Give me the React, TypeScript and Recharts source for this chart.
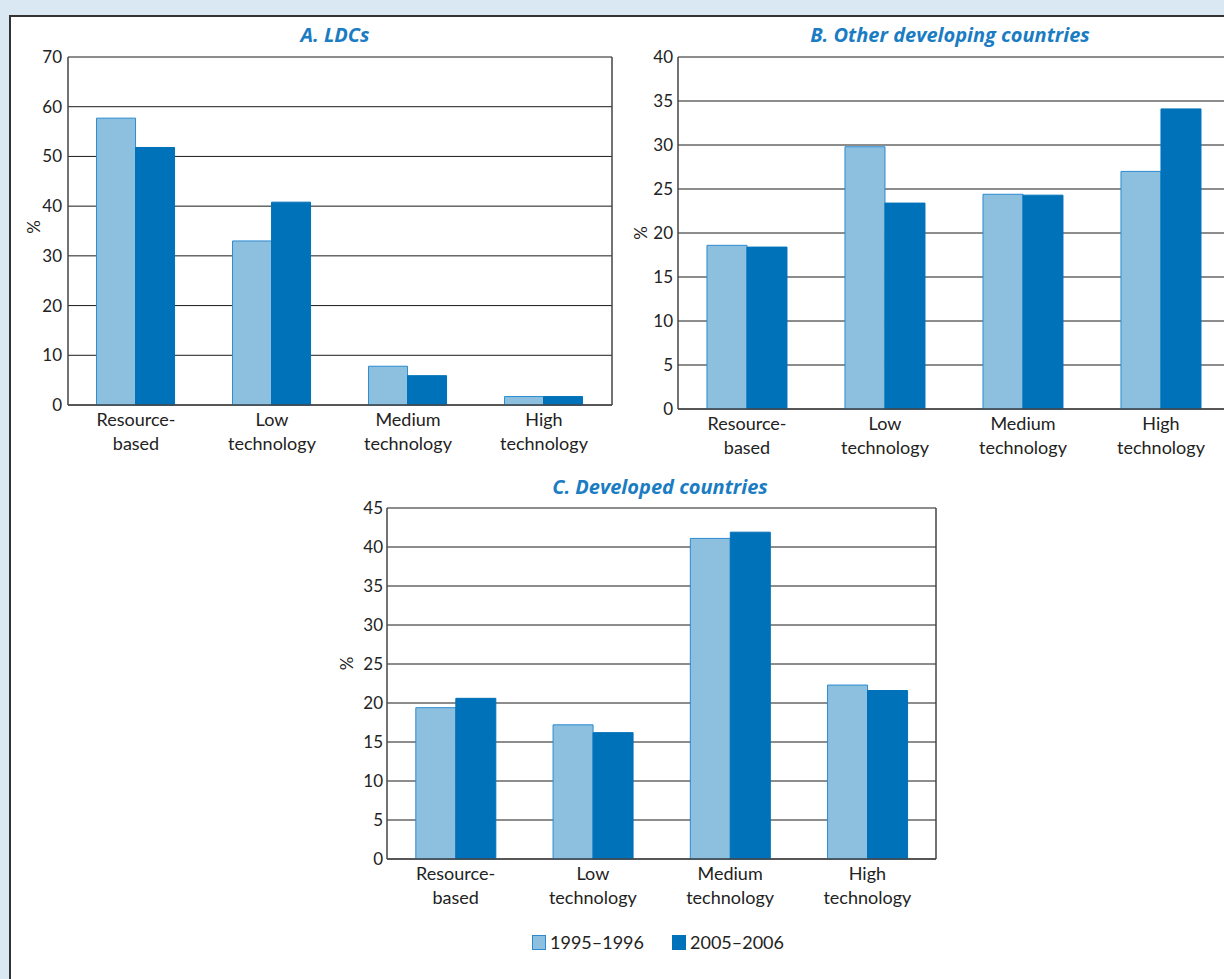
import React from "react";
import { BarChart, Bar, XAxis, YAxis, CartesianGrid } from "recharts";

const categories = ["Resource-\nbased", "Low\ntechnology", "Medium\ntechnology", "High\ntechnology"];
const seriesNames = ["1995–1996", "2005–2006"];

const ldc9596 = [57.7, 33.0, 7.8, 1.7];
const ldc0506 = [51.8, 40.8, 5.9, 1.7];
const other9596 = [18.6, 29.8, 24.4, 27.0];
const other0506 = [18.4, 23.4, 24.3, 34.1];
const dev9596 = [19.4, 17.2, 41.1, 22.3];
const dev0506 = [20.6, 16.2, 41.9, 21.6];

const ldcTicks = [0, 10, 20, 30, 40, 50, 60, 70];
const otherTicks = [0, 5, 10, 15, 20, 25, 30, 35, 40];
const devTicks = [0, 5, 10, 15, 20, 25, 30, 35, 40, 45];

const LIGHT = "#8dc0df";
const LIGHT_EDGE = "#2b8ad0";
const DARK = "#0072b9";
const TITLE = "#1a7cc2";
const FONT = "Lato, 'Open Sans', sans-serif";

const toRows = (a: number[], b: number[]) =>
  categories.map((name, i) => ({ name, a: a[i], b: b[i] }));

const CategoryTick = ({ x, y, payload }: any) => {
  const lines = String(payload.value).split("\n");
  return (
    <text x={x} y={y} textAnchor="middle" fill="#222" fontSize={18} fontFamily={FONT}>
      {lines.map((l, i) => (
        <tspan key={i} x={x} dy={i === 0 ? 13 : 24}>
          {l}
        </tspan>
      ))}
    </text>
  );
};

interface PanelProps {
  left: number;
  top: number;
  width: number;
  height: number;
  margin: { top: number; right: number; bottom: number; left: number };
  a: number[];
  b: number[];
  ticks: number[];
  pctDx: number;
  pctDy: number;
  tickGap: number;
}

function Panel({ left, top, width, height, margin, a, b, ticks, pctDx, pctDy, tickGap }: PanelProps) {
  const data = toRows(a, b);
  return (
    <div style={{ position: "absolute", left, top }}>
      <BarChart
        width={width}
        height={height}
        data={data}
        margin={margin}
        barGap={0}
        barCategoryGap="21%"
      >
        <CartesianGrid vertical={false} stroke="#1a1a1a" strokeWidth={1} />
        <XAxis
          dataKey="name"
          interval={0}
          tickLine={false}
          height={50}
          axisLine={{ stroke: "#444", strokeWidth: 1.5 }}
          tick={<CategoryTick />}
        />
        <YAxis
          domain={[0, ticks[ticks.length - 1]]}
          ticks={ticks}
          interval={0}
          tickLine={false}
          tickSize={tickGap}
          tickMargin={0}
          width={36}
          axisLine={{ stroke: "#444", strokeWidth: 1.5 }}
          tick={{ fill: "#222", fontSize: 17, fontFamily: FONT }}
          label={{
            value: "%",
            angle: -90,
            position: "center",
            dx: pctDx,
            dy: pctDy,
            fill: "#222",
            fontSize: 17,
            fontFamily: FONT,
          }}
        />
        <YAxis
          yAxisId="frame"
          orientation="right"
          domain={[0, 1]}
          width={1}
          tick={false}
          tickLine={false}
          axisLine={{ stroke: "#444", strokeWidth: 1.5 }}
        />
        <Bar dataKey="a" name={seriesNames[0]} fill={LIGHT} stroke={LIGHT_EDGE} strokeWidth={1} isAnimationActive={false} />
        <Bar dataKey="b" name={seriesNames[1]} fill={DARK} stroke={DARK} strokeWidth={1} isAnimationActive={false} />
      </BarChart>
    </div>
  );
}

const titleStyle = (cx: number, top: number): React.CSSProperties => ({
  position: "absolute",
  left: cx - 250,
  width: 500,
  top,
  textAlign: "center",
  color: TITLE,
  fontFamily: "'Open Sans', Lato, sans-serif",
  fontWeight: 700,
  fontStyle: "italic",
  fontSize: 20,
  lineHeight: "24px",
});

export default function App() {
  return (
    <div
      style={{
        position: "fixed",
        inset: 0,
        overflow: "hidden",
        background: "#d9e8f2",
        fontFamily: FONT,
      }}
    >
      <div
        style={{
          position: "absolute",
          left: 9,
          top: 15,
          right: -20,
          bottom: -20,
          background: "#fff",
          borderLeft: "2px solid #333",
          borderTop: "2px solid #333",
        }}
      />

      <div style={titleStyle(335, 23)}>A. LDCs</div>
      <Panel
        left={0}
        top={0}
        width={640}
        height={470}
        margin={{ top: 57, right: 27, bottom: 15, left: 32 }}
        a={ldc9596}
        b={ldc0506}
        ticks={ldcTicks}
        pctDx={-16}
        pctDy={-4}
        tickGap={6}
      />

      <div style={titleStyle(950, 23)}>B. Other developing countries</div>
      <Panel
        left={620}
        top={0}
        width={630}
        height={470}
        margin={{ top: 57, right: 19, bottom: 11, left: 22 }}
        a={other9596}
        b={other0506}
        ticks={otherTicks}
        pctDx={-19}
        pctDy={0}
        tickGap={5}
      />

      <div style={titleStyle(660, 475)}>C. Developed countries</div>
      <Panel
        left={320}
        top={450}
        width={640}
        height={520}
        margin={{ top: 58, right: 23, bottom: 61, left: 31 }}
        a={dev9596}
        b={dev0506}
        ticks={devTicks}
        pctDx={-22}
        pctDy={-20}
        tickGap={4}
      />

      <div
        style={{
          position: "absolute",
          left: 458,
          width: 400,
          top: 931,
          display: "flex",
          justifyContent: "center",
          alignItems: "center",
          gap: 28,
          fontSize: 18,
          color: "#222",
        }}
      >
        {seriesNames.map((s, i) => (
          <span key={s} style={{ display: "flex", alignItems: "center", gap: 4 }}>
            <span
              style={{
                display: "inline-block",
                width: 12,
                height: 13,
                background: i === 0 ? LIGHT : DARK,
                border: `1px solid ${i === 0 ? LIGHT_EDGE : DARK}`,
              }}
            />
            {s}
          </span>
        ))}
      </div>
    </div>
  );
}
